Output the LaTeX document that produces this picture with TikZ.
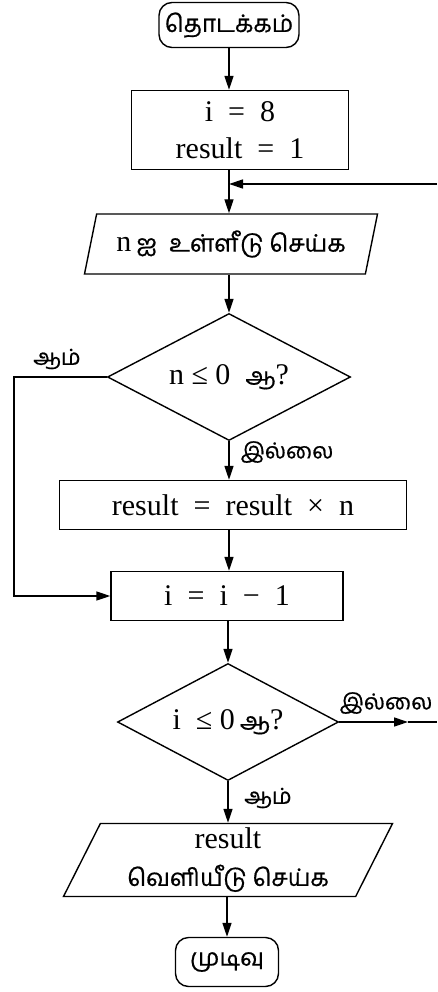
\documentclass[tikz,border=0pt]{standalone}
\usepackage{fontspec}
\setmainfont{Liberation Serif}
\newfontfamily\tamil[Script=Tamil,FakeBold=0.6]{Hind Madurai}
\usetikzlibrary{shapes.geometric,arrows.meta}

\newcommand{\tamtxt}[1]{{\fontsize{24}{28}\selectfont\tamil #1}}

\tikzset{
  base/.style={draw, line width=1.4pt, inner sep=0pt, align=center,
    font=\fontsize{30}{37}\selectfont},
  terminale/.style={base, rectangle, rounded corners=13pt},
  processo/.style={base, rectangle},
  io/.style={base, trapezium, trapezium stretches body},
  decisione/.style={base, diamond, aspect=2},
  etichetta/.style={inner sep=0pt, font=\fontsize{22}{26}\selectfont\tamil},
  freccia/.style={line width=1.4pt, -{Triangle[length=14pt,width=9pt]}},
}

\begin{document}
\begin{tikzpicture}[x=1pt,y=-1pt]

            \useasboundingbox (0,0) rectangle (437,992);

            % Blocchi
            \node[terminale, minimum width=140pt, minimum height=45pt] (inizio) at (229,25) {\tamtxt{தொடக்கம்}};
            \node[processo, minimum width=217pt, minimum height=79pt] (init) at (240,130)
                {i\enspace=\enspace8\\result\enspace=\enspace1};
            \node[io, trapezium left angle=66, trapezium right angle=114,
                  minimum width=293pt, minimum height=60pt] (input) at (231,244)
                {n\,\tamtxt{ஐ\enspace உள்ளீடு செய்க}};
            \node[decisione, minimum width=243pt, minimum height=127pt] (test1) at (229,377)
                {n ≤ 0\enspace\tamtxt{ஆ}?};
            \node[processo, minimum width=347pt, minimum height=49pt] (prodotto) at (233,505)
                {result\enspace=\enspace result\enspace×\enspace n};
            \node[processo, minimum width=232pt, minimum height=49pt] (decr) at (227,596)
                {i\enspace=\enspace i\enspace−\enspace1};
            \node[decisione, minimum width=221pt, minimum height=117pt] (test2) at (228,722)
                {i\enspace≤ 0\,\tamtxt{ஆ}?};
            \node[io, trapezium left angle=60, trapezium right angle=120,
                  minimum width=329pt, minimum height=73pt] (output) at (228,860)
                {result\\\tamtxt{வெளியீடு செய்க}};
            \node[terminale, minimum width=103pt, minimum height=49pt] (fine) at (227,962) {\tamtxt{முடிவு}};

            % Etichette
            \node[etichetta] (si1) at (57,359) {ஆம்};
            \node[etichetta] (no1) at (287,452) {இல்லை};
            \node[etichetta] (no2) at (386,703) {இல்லை};
            \node[etichetta] (si2) at (268,798) {ஆம்};

            % Coordinate libere
            \coordinate (ritorno) at (437,184);
            \coordinate (sinistra) at (14,377);
            \coordinate (punta) at (408,722);
            \coordinate (uscita) at (437,722);

            % Frecce
            \draw[freccia] (inizio.south) -- (inizio.south |- init.north);
            \draw[freccia] (inizio.south |- init.south) -- (inizio.south |- input.north);
            \draw[freccia] (ritorno) -- (inizio.south |- ritorno);
            \draw[freccia] (test1.north |- input.south) -- (test1.north);
            \draw[freccia] (test1.south) -- (test1.south |- prodotto.north);
            \draw[freccia] (test1.south |- prodotto.south) -- (test1.south |- decr.north);
            \draw[freccia] (test1.west) -- (sinistra) -- (sinistra |- decr.west) -- (decr.west);
            \draw[freccia] (test2.north |- decr.south) -- (test2.north);
            \draw[freccia] (test2.east) -- (punta);
            \draw[line width=1.4pt] (punta) -- (uscita);
            \draw[freccia] (test2.south) -- (test2.south |- output.north);
            \draw[freccia] (fine.north |- output.south) -- (fine.north);

        \end{tikzpicture}
\end{document}
